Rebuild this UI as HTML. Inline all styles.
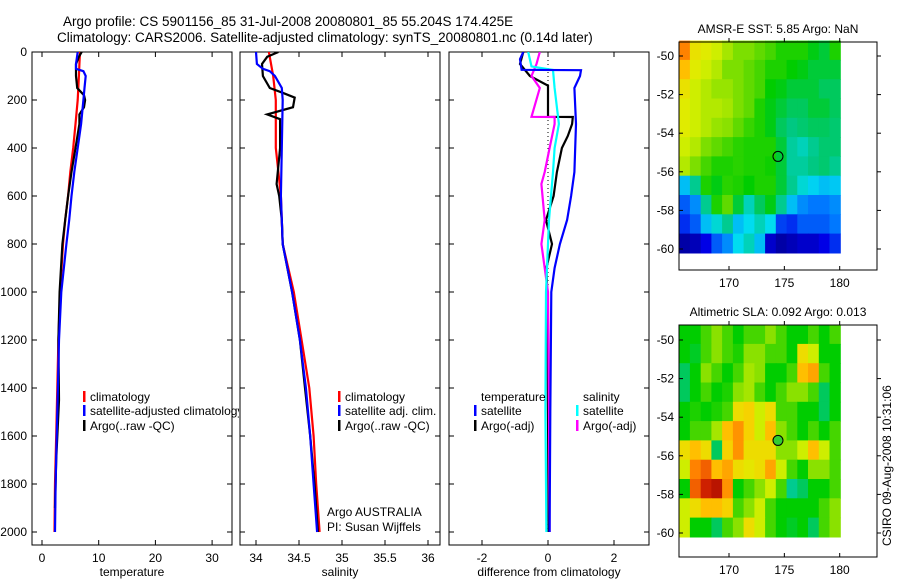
<!DOCTYPE html>
<html><head><meta charset="utf-8"><style>
html,body{margin:0;padding:0;background:#fff;}
svg{display:block;font-family:"Liberation Sans",sans-serif;}
</style></head><body>
<svg id="fig" width="900" height="580" viewBox="0 0 900 580" xmlns="http://www.w3.org/2000/svg">
<text x="63" y="26" font-size="13.5">Argo profile: CS 5901156_85 31-Jul-2008 20080801_85 55.204S 174.425E</text>
<text x="57" y="42" font-size="13.5">Climatology: CARS2006. Satellite-adjusted climatology: synTS_20080801.nc (0.14d later)</text>
<g id="g"></g>
</svg>
<script>
// ---------- data ----------
const depthTicks=[0,200,400,600,800,1000,1200,1400,1600,1800,2000];
const tempTicks=[0,10,20,30];
const salTicks=[34,34.5,35,35.5,36];
const salTickLabels=["34","34.5","35","35.5","36"];
const diffTicks=[-2,0,2];
const latTicks=[-50,-52,-54,-56,-58,-60];
const lonTicks=[170,175,180];

const tClimDepth=[0,50,100,150,200,300,400,500,600,700,800,1000,1200,1400,1600,1800,2000];
const tClim=[6.7,6.6,6.5,6.4,6.3,5.9,5.5,5.0,4.6,4.1,3.7,3.2,2.9,2.7,2.5,2.3,2.2];
const tSatDepth=[0,50,70,80,100,150,200,300,400,500,600,700,800,1000,1200,1400,1600,1800,2000];
const tSat=[6.3,6.0,6.0,7.3,7.7,7.5,7.3,6.9,6.3,5.7,5.2,4.8,4.3,3.4,3.0,2.8,2.6,2.4,2.3];
const tArgoDepth=[0,20,50,100,150,180,200,230,260,300,400,500,600,700,800,1000,1200,1450,1700,1900];
const tArgo=[7.0,6.5,6.0,6.0,6.2,7.4,7.6,7.4,6.6,6.6,5.9,5.2,4.6,4.1,3.6,3.1,2.9,3.0,2.5,2.3];

const sClimDepth=[0,100,200,300,400,500,600,800,1000,1200,1400,1600,1800,2000];
const sClim=[34.15,34.2,34.23,34.23,34.23,34.26,34.29,34.31,34.44,34.53,34.62,34.67,34.70,34.74];
const sSatDepth=[0,50,70,80,100,150,200,400,600,800,1000,1200,1400,1600,1800,2000];
const sSat=[34.0,34.01,34.08,34.16,34.22,34.30,34.31,34.30,34.29,34.31,34.42,34.51,34.58,34.63,34.67,34.71];
const sArgoDepth=[0,20,50,100,150,170,190,230,260,280,400,550,600,700,800,1000,1200,1400,1600,1800,2000];
const sArgo=[34.26,34.13,34.07,34.08,34.16,34.31,34.45,34.43,34.13,34.28,34.28,34.24,34.27,34.30,34.31,34.42,34.51,34.57,34.63,34.68,34.72];

const dTSatDepth=[0,30,74,76,100,150,300,500,600,700,800,900,1000,1500,2000];
const dTSat=[-0.75,-0.85,-0.8,1.0,0.97,0.8,0.85,0.8,0.7,0.58,0.36,0.2,0.1,0.07,0.05];
const dTArgoDepth=[0,50,100,140,270,271,300,350,400,500,600,700,800,900,1000,1500,2000];
const dTArgo=[-0.75,-0.85,-0.55,0.0,0.0,0.75,0.73,0.6,0.42,0.27,0.17,-0.06,0.12,-0.05,-0.02,0.0,0.02];
const dSSatDepth=[0,60,75,150,300,400,500,700,1000,1500,2000];
const dSSat=[-0.6,-0.5,0.15,0.2,0.33,0.2,0.15,0.03,-0.06,-0.08,-0.05];
const dSArgoDepth=[0,50,100,150,270,271,300,400,500,550,700,800,900,1000,1500,2000];
const dSArgo=[-0.25,-0.35,-0.5,-0.25,-0.5,0.2,0.2,0.05,-0.1,-0.2,-0.1,-0.2,-0.1,0.0,0.03,0.05];

const sstGrid=[
[.85,.72,.7,.68,.65,.62,.62,.6,.58,.55,.55,.55,.52,.5,.55],
[.78,.7,.68,.66,.62,.62,.6,.58,.55,.55,.53,.52,.5,.5,.5],
[.72,.68,.66,.64,.64,.62,.6,.58,.53,.52,.5,.5,.5,.48,.48],
[.7,.68,.66,.66,.65,.62,.6,.55,.52,.5,.48,.48,.5,.5,.48],
[.7,.68,.66,.64,.63,.6,.57,.55,.52,.48,.46,.47,.48,.48,.47],
[.68,.66,.62,.6,.58,.56,.55,.55,.55,.5,.44,.42,.45,.47,.47],
[.66,.62,.58,.55,.55,.56,.55,.55,.54,.5,.44,.44,.46,.47,.45],
[.35,.45,.55,.52,.56,.55,.53,.55,.55,.5,.45,.4,.37,.35,.36],
[.25,.3,.45,.55,.6,.5,.42,.48,.52,.45,.35,.3,.28,.28,.3],
[.2,.25,.35,.4,.45,.35,.38,.42,.38,.22,.2,.25,.25,.25,.28],
[.08,.1,.15,.25,.3,.38,.42,.35,.12,.08,.1,.12,.12,.15,.2]];
const slaGrid=[
[.5,.5,.55,.6,.55,.5,.55,.55,.6,.55,.5,.5,.55,.5,.55],
[.5,.48,.55,.6,.55,.52,.6,.6,.55,.55,.5,.7,.65,.5,.5],
[.45,.5,.6,.55,.5,.55,.62,.6,.5,.5,.55,.75,.78,.55,.5],
[.45,.5,.55,.5,.52,.6,.62,.55,.5,.55,.6,.6,.55,.45,.5],
[.5,.52,.5,.52,.55,.7,.72,.65,.7,.55,.55,.5,.5,.45,.5],
[.5,.55,.55,.62,.75,.8,.72,.65,.75,.6,.55,.5,.55,.5,.55],
[.7,.75,.7,.45,.72,.8,.7,.7,.7,.6,.6,.65,.75,.65,.55],
[.65,.82,.85,.75,.78,.7,.68,.7,.78,.65,.55,.5,.6,.6,.55],
[.5,.85,.92,.95,.8,.5,.55,.6,.65,.55,.42,.45,.5,.5,.55],
[.65,.7,.75,.75,.72,.55,.6,.65,.55,.5,.5,.5,.5,.55,.6],
[.65,.5,.5,.45,.55,.6,.7,.65,.55,.5,.48,.5,.45,.55,.6]];
const floatLon=174.425, floatLat=-55.204;

// ---------- helpers ----------
const NS="http://www.w3.org/2000/svg";
const G=document.getElementById('g');
function mk(tag,attrs,parent){const e=document.createElementNS(NS,tag);for(const k in attrs)e.setAttribute(k,attrs[k]);(parent||G).appendChild(e);return e;}
function txt(x,y,s,size,anchor,parent){const t=mk('text',{x:x,y:y,'font-size':size||12,'text-anchor':anchor||'start'},parent);t.textContent=s;return t;}
const yD=d=>52+d*0.24;
const PT=545, PTOP=52;

function panel(name,x0,x1,xs,ticks,labels,xlabel,showY){
  const g=mk('g',{});
  
  
  const r=mk('rect',{x:x0,y:PTOP,width:x1-x0,height:PT-PTOP,fill:'#fff',stroke:'#000','stroke-width':1},g);
  
  
  depthTicks.forEach(d=>{
    mk('line',{x1:x0,x2:x0+5,y1:yD(d),y2:yD(d),stroke:'#000'},g);
    mk('line',{x1:x1-5,x2:x1,y1:yD(d),y2:yD(d),stroke:'#000'},g);
    if(showY){const t=txt(27,yD(d)+4,String(d),12,'end',g);
      
      }
  });
  ticks.forEach((v,i)=>{const x=xs(v);
    mk('line',{x1:x,x2:x,y1:PT,y2:PT-5,stroke:'#000'},g);
    mk('line',{x1:x,x2:x,y1:PTOP,y2:PTOP+5,stroke:'#000'},g);
    const t=txt(x,562,labels[i],12,'middle',g);
    
    
  });
  const xl=txt((x0+x1)/2,576,xlabel,12,'middle',g);
  
  
  const cp=mk('clipPath',{id:'cp-'+name},g);
  mk('rect',{x:x0,y:PTOP,width:x1-x0,height:PT-PTOP},cp);
  const inner=mk('g',{'clip-path':'url(#cp-'+name+')'},g);
  return inner;
}
function line(parent,xs,depths,vals,color,w,name,dash){
  const pts=vals.map((v,i)=>xs(v).toFixed(1)+','+yD(depths[i]).toFixed(1)).join(' ');
  const p=mk('polyline',{points:pts,fill:'none',stroke:color,'stroke-width':w||2.2,'stroke-linejoin':'miter'},parent);
  if(dash)p.setAttribute('stroke-dasharray',dash);
  
  
  return p;
}
function legendEntry(parent,x,y,color,label,name){
  if(color)mk('rect',{x:x,y:y-10,width:2.5,height:11,fill:color},parent);
  const t=txt(x+7,y,label,12,'start',parent);
  
  
}

// ---------- temperature panel ----------
const xT=v=>42+v*5.67;
const p1=panel('temperature-panel',32,232,xT,tempTicks,tempTicks.map(String),'temperature',true);
line(p1,xT,tClimDepth,tClim,'#f00',2.2,'temp-climatology-line');
line(p1,xT,tArgoDepth,tArgo,'#000',2.2,'temp-argo-line');
line(p1,xT,tSatDepth,tSat,'#00f',2.2,'temp-satellite-line');
const lg1=mk('g',{});


const cl1=mk('clipPath',{id:'cl1'},lg1);mk('rect',{x:32,y:52,width:207,height:493},cl1);
const lg1i=mk('g',{'clip-path':'url(#cl1)'},lg1);
legendEntry(lg1i,83,401,'#f00','climatology','legend-climatology');
legendEntry(lg1i,83,415,'#00f','satellite-adjusted climatology','legend-satellite');
legendEntry(lg1i,83,430,'#000','Argo(..raw -QC)','legend-argo');

// ---------- salinity panel ----------
const xS=v=>256+(v-34)*86;
const p2=panel('salinity-panel',240,440,xS,salTicks,salTickLabels,'salinity',false);
line(p2,xS,sClimDepth,sClim,'#f00',2.2,'sal-climatology-line');
line(p2,xS,sArgoDepth,sArgo,'#000',2.2,'sal-argo-line');
line(p2,xS,sSatDepth,sSat,'#00f',2.2,'sal-satellite-line');
const lg2=mk('g',{});


legendEntry(lg2,338,401,'#f00','climatology','legend-climatology');
legendEntry(lg2,338,415,'#00f','satellite adj. clim.','legend-satellite');
legendEntry(lg2,338,430,'#000','Argo(..raw -QC)','legend-argo');
const ag=txt(327,516,'Argo AUSTRALIA',12);


const pi=txt(327,531,'PI: Susan Wijffels',12);



// ---------- difference panel ----------
const xDf=v=>548+v*33;
const p3=panel('difference-panel',449,649,xDf,diffTicks,diffTicks.map(String),'difference from climatology',false);
const zl=mk('line',{x1:xDf(0),x2:xDf(0),y1:yD(0),y2:yD(2000),stroke:'#000','stroke-dasharray':'1,3'},p3);


line(p3,xDf,dTArgoDepth,dTArgo,'#000',2.2,'diff-temp-argo-line');
line(p3,xDf,dSArgoDepth,dSArgo,'#f0f',2.2,'diff-sal-argo-line');
line(p3,xDf,dSSatDepth,dSSat,'#0ff',2.2,'diff-sal-satellite-line');
line(p3,xDf,dTSatDepth,dTSat,'#00f',2.2,'diff-temp-satellite-line');
const lg3=mk('g',{});


legendEntry(lg3,474,401,null,'temperature','legend-temperature-head');
legendEntry(lg3,576,401,null,'salinity','legend-salinity-head');
legendEntry(lg3,474,415,'#00f','satellite','legend-temp-satellite');
legendEntry(lg3,474,430,'#000','Argo(-adj)','legend-temp-argo');
legendEntry(lg3,576,415,'#0ff','satellite','legend-sal-satellite');
legendEntry(lg3,576,430,'#f0f','Argo(-adj)','legend-sal-argo');

// ---------- maps ----------
const cmap=[[0,[0,0,120]],[.12,[0,0,230]],[.25,[0,120,255]],[.35,[0,220,240]],[.43,[0,200,130]],[.5,[0,205,0]],[.58,[110,220,0]],[.66,[220,240,0]],[.74,[255,200,0]],[.82,[255,130,0]],[.9,[220,40,0]],[1,[150,0,0]]];
function colour(v){
  v=Math.max(0,Math.min(1,v));
  for(let i=1;i<cmap.length;i++){
    if(v<=cmap[i][0]){const a=cmap[i-1],b=cmap[i];const f=(v-a[0])/(b[0]-a[0]);
      const c=a[1].map((q,k)=>Math.round(q+(b[1][k]-q)*f));
      return 'rgb('+c.join(',')+')';}
  }
  return 'rgb(150,0,0)';
}
function mapPanel(name,top,bottom,lat50,grid,title,filled,shift){
  const g=mk('g',{});
  
  
  const L=679,R=877,lonx=lon=>729+(lon-170)*11.07;
  const laty=lat=>lat50+(-50-lat)*19.3;
  mk('rect',{x:L,y:top,width:R-L,height:bottom-top,fill:'#fff'},g);
  const lat0=-49.2, lat1=-60.2, lon0=165.5, lon1=180.05;
  const nr=grid.length, nc=grid[0].length;
  const dlat=(lat0-lat1)/nr, dlon=(lon1-lon0)/nc;
  grid.forEach((row,i)=>row.forEach((v,j)=>{
    const x=lonx(lon0+j*dlon), y=laty(lat0-i*dlat);
    const c=mk('rect',{x:x.toFixed(1),y:y.toFixed(1),width:(dlon*11.07+0.6).toFixed(1),height:(dlat*19.3+0.6).toFixed(1),fill:colour(v-shift)},g);
    
    
  }));
  const fr=mk('rect',{x:L,y:top,width:R-L,height:bottom-top,fill:'none',stroke:'#000'},g);
  
  
  latTicks.forEach(la=>{const y=laty(la);
    mk('line',{x1:L,x2:L+4,y1:y,y2:y,stroke:'#000'},g);
    mk('line',{x1:R,x2:R+4,y1:y,y2:y,stroke:'#000'},g);
    const t=txt(674,y+4,String(la),12,'end',g);
    
    
  });
  lonTicks.forEach(lo=>{const x=lonx(lo);
    mk('line',{x1:x,x2:x,y1:top,y2:top-4,stroke:'#000'},g);
    mk('line',{x1:x,x2:x,y1:bottom,y2:bottom-4,stroke:'#000'},g);
    const t=txt(x,bottom+17,String(lo),12,'middle',g);
    
    
  });
  const tt=txt(778,top-9,title,12,'middle',g);
  
  
  const c=mk('circle',{cx:lonx(floatLon),cy:laty(floatLat),r:5,fill:filled?'#3c3':'none',stroke:'#000','stroke-width':1},g);
  
  
}
mapPanel('sst-map',42,270,56,sstGrid,'AMSR-E SST: 5.85 Argo: NaN',false,0.03);
mapPanel('sla-map',325,557,340,slaGrid,'Altimetric SLA: 0.092 Argo: 0.013',true,0.0);
const st=txt(0,0,'CSIRO 09-Aug-2008 10:31:06',12,'start');
st.setAttribute('transform','translate(891,546) rotate(-90)');


</script>
</body></html>
